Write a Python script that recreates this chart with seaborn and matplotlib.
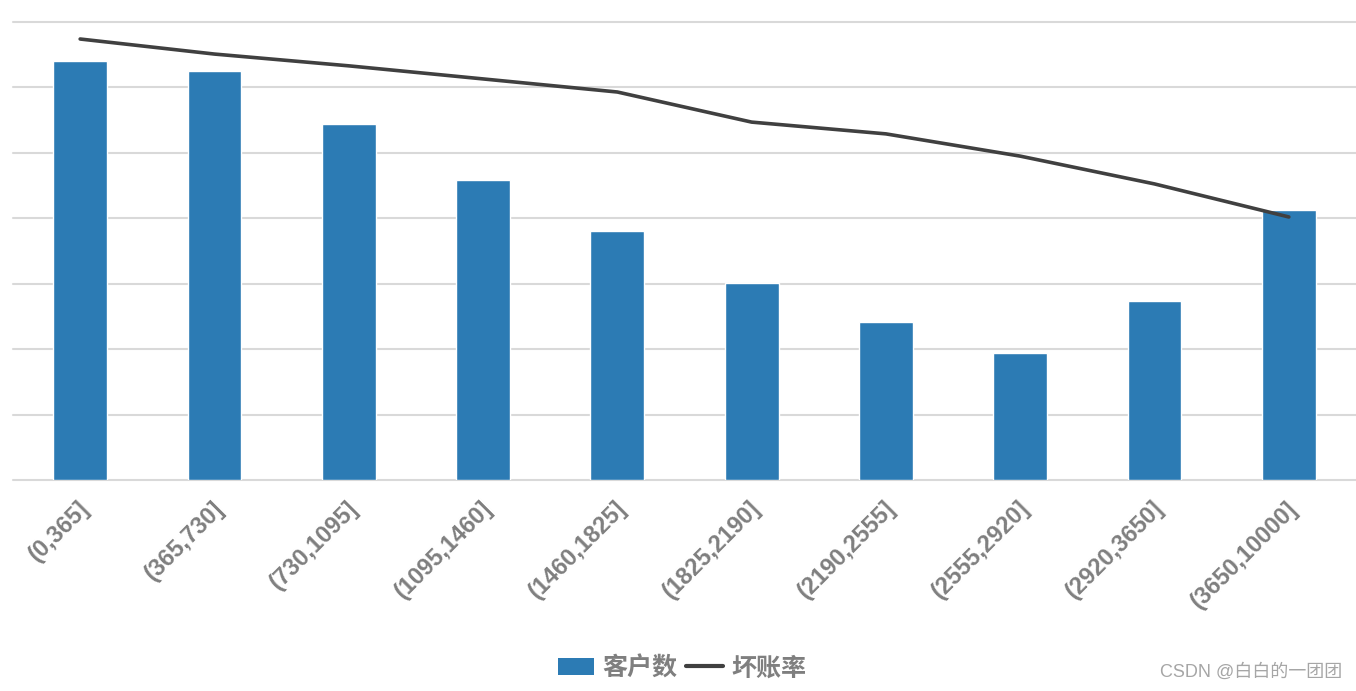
import numpy as np
import pandas as pd
import matplotlib.pyplot as plt
import matplotlib.transforms as mtransforms
from matplotlib.lines import Line2D
from matplotlib.patches import Patch
import seaborn as sns

# data
bins = ['(0,365]', '(365,730]', '(730,1095]', '(1095,1460]', '(1460,1825]',
        '(1825,2190]', '(2190,2555]', '(2555,2920]', '(2920,3650]', '(3650,10000]']
customers = [6404, 6251, 5441, 4585, 3806, 3011, 2415, 1941, 2736, 4127]
bad_rate = [0.1348, 0.1302, 0.1266, 0.1226, 0.1186, 0.1094, 0.1058, 0.0990, 0.0905, 0.0804]

bar_color = '#2C7BB4'
line_color = '#404040'
text_gray = '#7F7F7F'

sns.set_theme(style='white')
plt.rcParams['font.family'] = ['Liberation Sans', 'Noto Sans CJK SC', 'DejaVu Sans']

df = pd.DataFrame({'区间': bins, '客户数': customers, '坏账率': bad_rate})

fig = plt.figure(figsize=(13.56, 6.91), dpi=100)
ax = fig.add_axes([13 / 1356, 1 - 480 / 691, 1 - 13 / 1356, (480 - 22) / 691])

# bars
sns.barplot(data=df, x='区间', y='客户数', color=bar_color, width=0.4,
            saturation=1, ax=ax)
ax.set_xlim(-0.5, len(bins) - 0.5)
ax.set_ylim(0, 7000)
ax.set_yticks(range(0, 7001, 1000))
ax.yaxis.grid(True, color='#D9D9D9', lw=1.5)
ax.set_axisbelow(True)
for gl in ax.get_ygridlines():
    gl.set_clip_on(False)
ax.set_xlabel('')
ax.set_ylabel('')

# line on secondary axis
ax2 = ax.twinx()
sns.lineplot(x=np.arange(len(bins)), y=bad_rate, color=line_color, lw=2.6, ax=ax2)
ax2.set_ylim(0, 0.14)
ax2.set_yticks([])
ax2.set_ylabel('')
for s in ax2.spines.values():
    s.set_visible(False)

# ticks (after twinx, which turns left ticks back on)
ax.tick_params(axis='y', left=False, right=False, labelleft=False)
ax.tick_params(axis='x', bottom=False, pad=12)
ax.set_xticks(range(len(bins)))
ax.set_xticklabels(bins, rotation=45, ha='right', va='center', rotation_mode='anchor',
                   fontsize=17, fontweight='bold', color=text_gray)
shift = mtransforms.ScaledTranslation(4 / 72, 0, fig.dpi_scale_trans)
for lbl in ax.get_xticklabels():
    lbl.set_transform(lbl.get_transform() + shift)
for s in ax.spines.values():
    s.set_visible(False)

# legend
handles = [Patch(facecolor=bar_color, edgecolor='none'),
           Line2D([0], [0], color=line_color, lw=3)]
fig.legend(handles, ['客户数', '坏账率'], loc='center', bbox_to_anchor=(0.503, 0.033),
           ncol=2, frameon=False, handlelength=1.45, handleheight=0.7,
           columnspacing=0.35, handletextpad=0.35, labelcolor=text_gray,
           prop={'family': 'Noto Sans CJK SC', 'weight': 'bold', 'size': 18})

fig.text(1342 / 1356, 1 - 672 / 691, 'CSDN @白白的一团团', ha='right', va='center',
         fontsize=13, color='#A6A6A6')

fig.savefig('out.png', dpi=100)
